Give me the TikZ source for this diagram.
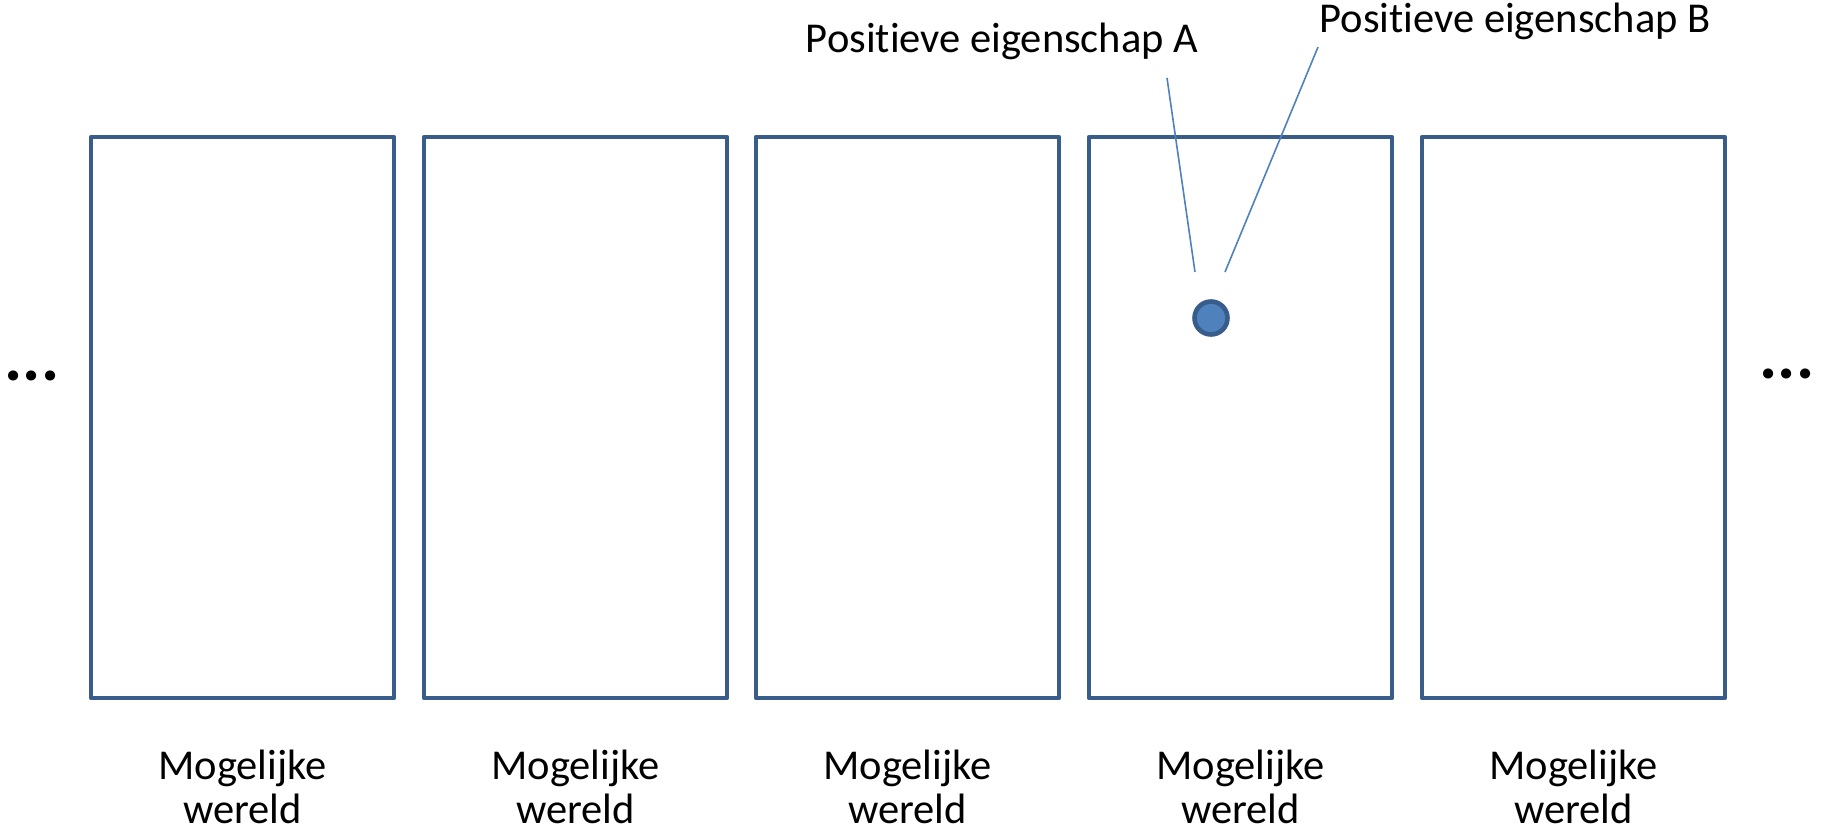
\documentclass[tikz,border=0pt]{standalone}
\usepackage{fontspec}
\setmainfont[Ligatures=NoCommon]{Carlito}
\definecolor{boxblue}{HTML}{385D8A}
\definecolor{fillblue}{HTML}{4F81BD}
\begin{document}
\begin{tikzpicture}[x=1pt,y=-1pt,
  world/.style={draw=boxblue,line width=4.6pt,line join=round},
  lbl/.style={font=\fontsize{42.5}{44}\selectfont,align=center,inner sep=0pt},
  dots/.style={font=\fontsize{68}{68}\selectfont\bfseries,inner sep=0pt},
  pointer/.style={draw=fillblue,line width=1.6pt}]
\useasboundingbox (0,0) rectangle (1824,833);
\foreach \i/\x in {1/91,2/424,3/756,4/1089,5/1422}{
  \draw[world] (\x,137) rectangle ++(303,561);
  \node[lbl,anchor=base] (w\i) at (\x+151.5,823) {Mogelijke\\wereld};
}
\node[dots,anchor=base] (ldots) at (32,380) {...};
\node[dots,anchor=base] (rdots) at (1787,378) {...};
\node[circle,draw=boxblue,fill=fillblue,line width=4.6pt,minimum size=33pt,inner sep=0pt] (pt) at (1211,318) {};
\node[lbl,anchor=base] (pa) at (1002,52) {Positieve eigenschap A};
\node[lbl,anchor=base] (pb) at (1515,32) {Positieve eigenschap B};
\coordinate (ea) at (1195,272);
\coordinate (eb) at (1225,272);
\coordinate (sa) at (1167,78);
\coordinate (sb) at (1318,47);
\draw[pointer] (sa) -- (ea);
\draw[pointer] (sb) -- (eb);
\end{tikzpicture}
\end{document}
